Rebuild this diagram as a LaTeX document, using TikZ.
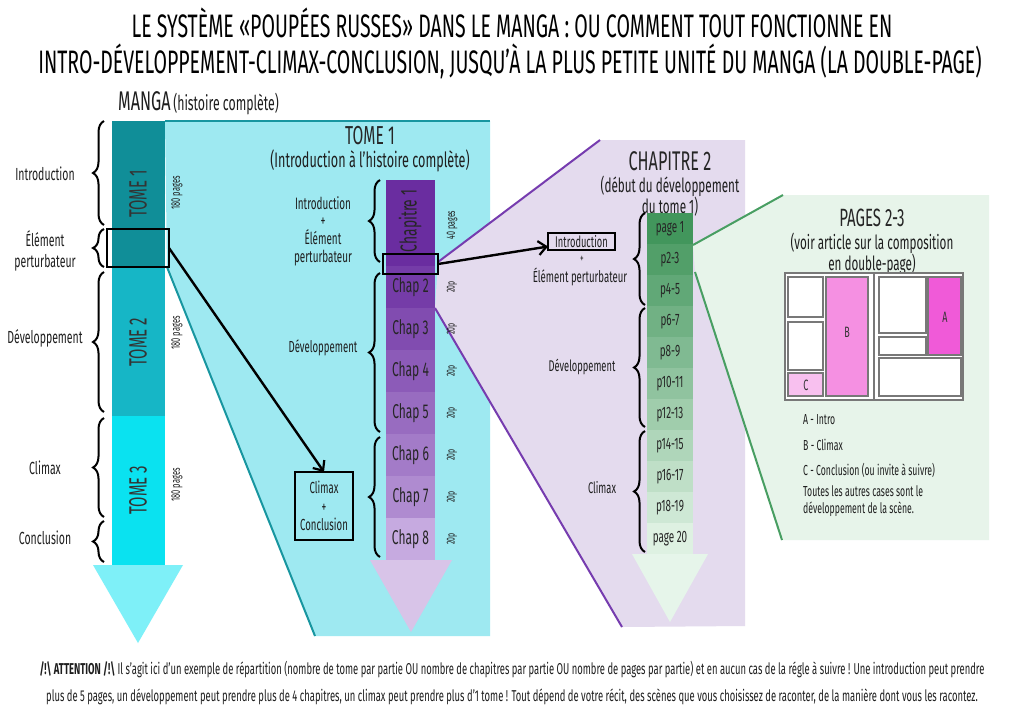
\documentclass[tikz,border=0pt]{standalone}
\usepackage{fontspec}
\setmainfont{Fira Sans}
\newfontfamily\cf{Fira Sans}[FakeStretch=0.6]
\newfontfamily\tf{Fira Sans}[FakeStretch=0.6]
\usetikzlibrary{decorations.pathreplacing,arrows.meta}
\definecolor{tomeA}{RGB}{16,142,152}
\definecolor{tomeB}{RGB}{22,182,198}
\definecolor{tomeC}{RGB}{10,226,240}
\definecolor{tomeHead}{RGB}{126,240,248}
\definecolor{cyanPanel}{RGB}{158,233,241}
\definecolor{tealLine}{RGB}{24,150,160}
\definecolor{lavPanel}{RGB}{228,219,238}
\definecolor{purLine}{RGB}{118,60,175}
\definecolor{grnPanel}{RGB}{231,244,234}
\definecolor{grnLine}{RGB}{72,158,98}
\definecolor{chDark}{RGB}{106,45,160}
\definecolor{chLight}{RGB}{198,170,224}
\definecolor{chHead}{RGB}{216,196,232}
\definecolor{pgDark}{RGB}{66,150,92}
\definecolor{pgLight}{RGB}{222,241,226}
\definecolor{pgHead}{RGB}{230,245,234}
\definecolor{pinkB}{RGB}{245,144,226}
\definecolor{pinkA}{RGB}{240,90,216}
\definecolor{pinkC}{RGB}{248,192,239}
\definecolor{txtc}{RGB}{30,30,30}
\definecolor{frameGray}{RGB}{120,120,120}
\begin{document}
\begin{tikzpicture}[x=1pt,y=-1pt,
  seg/.style={inner sep=0pt, outer sep=0pt, draw=none, anchor=north west},
  txt/.style={inner sep=0pt, text=txtc, align=center},
  brc/.style={decorate, decoration={brace, amplitude=11pt}, line width=2pt, black},
  blackbox/.style={draw=black, line width=2.6pt, inner sep=0pt, outer sep=0pt, anchor=north west},
  arr/.style={line width=2.4pt, -{Straight Barb[length=8pt,width=14pt,line width=2.2pt]}},
  panelline/.style={line width=2pt},
  cell/.style={draw=frameGray, line width=1.4pt, fill=white, inner sep=0pt, outer sep=0pt, anchor=north west},
]
\useasboundingbox (0,0) rectangle (1024,724);
\fill[white] (0,0) rectangle (1024,724);

% ---------- titles ----------
\node[txt, font=\tf\fontsize{32.5}{36}\selectfont, text=black] (title1) at (512,23) {LE SYSTÈME «POUPÉES RUSSES» DANS LE MANGA : OU COMMENT TOUT FONCTIONNE EN};
\node[txt, font=\tf\fontsize{32.5}{36}\selectfont, text=black] (title2) at (510,61) {INTRO-DÉVELOPPEMENT-CLIMAX-CONCLUSION, JUSQU’À LA PLUS PETITE UNITÉ DU MANGA (LA DOUBLE-PAGE)};
\node[txt, anchor=west] (mangat) at (118,103) {{\tf\fontsize{27}{29}\selectfont MANGA} {\cf\fontsize{20.5}{22}\selectfont(histoire complète)}};

% ---------- panels ----------
\coordinate (cpTR) at (490,121);
\coordinate (cpBR) at (490,636);
\coordinate (cpBL) at (315,636);
\coordinate (cpTL) at (165,121);
\coordinate (cpD) at (167,267);
\fill[cyanPanel] (cpTL) -- (cpTR) -- (cpBR) -- (cpBL) -- (cpD) -- cycle;
\draw[tealLine, panelline] (cpTL) -- (cpTR);
\draw[tealLine, panelline] (cpD) -- (cpBL);

\coordinate (lpA) at (438,262);
\coordinate (lpB) at (600,140);
\coordinate (lpC) at (745,140);
\coordinate (lpD) at (745,626);
\coordinate (lpE) at (622,627);
\coordinate (lpF) at (435,308);
\fill[lavPanel] (lpA) -- (lpB) -- (lpC) -- (lpD) -- (lpE) -- (lpF) -- cycle;
\draw[purLine, panelline] (lpA) -- (lpB);
\draw[purLine, panelline] (lpF) -- (lpE);

\coordinate (gpA) at (693,245);
\coordinate (gpB) at (783,195);
\coordinate (gpC) at (989,195);
\coordinate (gpD) at (989,540);
\coordinate (gpE) at (782,540);
\coordinate (gpF) at (695,272);
\fill[grnPanel] (gpA) -- (gpB) -- (gpC) -- (gpD) -- (gpE) -- (gpF) -- cycle;
\draw[grnLine, panelline] (gpA) -- (gpB);
\draw[grnLine, panelline] (gpF) -- (gpE);

% ---------- manga bar ----------
\node[seg, fill=tomeA, minimum width=53pt, minimum height=146pt] (tome1) at (112,121) {};
\node[seg, fill=tomeB, minimum width=53pt, minimum height=149pt] (tome2) at (112,267) {};
\node[seg, fill=tomeC, minimum width=53pt, minimum height=149pt] (tome3) at (112,416) {};
\fill[tomeHead] (93,565) -- (183,565) -- (138,643) -- cycle;
\node[txt, rotate=90, font=\tf\fontsize{25}{26}\selectfont, text=black!80] (tome1l) at (138,194) {TOME 1};
\node[txt, rotate=90, font=\tf\fontsize{25}{26}\selectfont, text=black!80] (tome2l) at (138,342) {TOME 2};
\node[txt, rotate=90, font=\tf\fontsize{25}{26}\selectfont, text=black!80] (tome3l) at (138,490) {TOME 3};
\node[txt, rotate=90, font=\cf\fontsize{12.5}{14}\selectfont] (tome1p) at (177,193) {180 pages};
\node[txt, rotate=90, font=\cf\fontsize{12.5}{14}\selectfont] (tome2p) at (177,333) {180 pages};
\node[txt, rotate=90, font=\cf\fontsize{12.5}{14}\selectfont] (tome3p) at (177,485) {180 pages};
\node[blackbox, minimum width=62pt, minimum height=38pt] (eb) at (107,229) {};

% left labels and braces
\node[txt, font=\cf\fontsize{17.5}{20}\selectfont] (lIntro) at (45,174) {Introduction};
\node[txt, font=\cf\fontsize{17.5}{21}\selectfont] (lElem) at (45,251) {Élément\\perturbateur};
\node[txt, font=\cf\fontsize{17.5}{20}\selectfont] (lDev) at (45,338) {Développement};
\node[txt, font=\cf\fontsize{17.5}{20}\selectfont] (lClim) at (45,468) {Climax};
\node[txt, font=\cf\fontsize{17.5}{20}\selectfont] (lConc) at (45,538) {Conclusion};
\draw[brc] (104,225) -- (104,121);
\draw[brc] (104,267) -- (104,229);
\draw[brc] (104,412) -- (104,272);
\draw[brc] (104,517) -- (104,418);
\draw[brc] (104,562) -- (104,521);

% ---------- tome 1 panel ----------
\node[txt, font=\tf\fontsize{26}{28}\selectfont, text=black!85] (t1title) at (370,136) {TOME 1};
\node[txt, font=\cf\fontsize{21}{23}\selectfont] (t1sub) at (370,161) {(Introduction à l’histoire complète)};
\node[seg, fill=chDark, minimum width=49pt, minimum height=86pt] (ch1) at (386,180) {};
\foreach \i/\p in {2/12,3/25,4/37,5/50,6/62,7/75,8/100}{
  \pgfmathsetmacro{\yy}{266+(\i-2)*42}
  \node[seg, fill=chLight!\p!chDark, minimum width=49pt, minimum height=42pt] (ch\i) at (386,\yy) {};
  \node[txt, font=\cf\fontsize{20}{22}\selectfont, text=black!85] (ch\i l) at (ch\i.center) {Chap \i};
  \node[txt, rotate=90, font=\cf\fontsize{11.5}{12}\selectfont] (ch\i p) at (452,\yy+21) {20p};
}
\fill[chHead] (370,560) -- (452,560) -- (411,632) -- cycle;
\node[txt, rotate=90, font=\cf\fontsize{23}{25}\selectfont, text=black!85] (ch1l) at (410,221) {Chapitre 1};
\node[txt, rotate=90, font=\cf\fontsize{12}{12}\selectfont] (ch1p) at (452,225) {40 pages};
\node[blackbox, minimum width=55pt, minimum height=20pt] (cb) at (383,254) {};

\node[txt, font=\cf\fontsize{16.5}{17.7}\selectfont] (t1intro) at (323,231) {Introduction\\+\\Élément\\perturbateur};
\node[txt, font=\cf\fontsize{16}{18}\selectfont] (t1dev) at (323,348) {Développement};
\draw[brc] (380,262) -- (380,180);
\draw[brc] (380,432) -- (380,273);
\draw[brc] (380,557) -- (380,437);

\node[blackbox, minimum width=58pt, minimum height=68pt] (ccb) at (295,472) {};
\node[txt, font=\cf\fontsize{16}{18.5}\selectfont] (ccbt) at (ccb.center) {Climax\\+\\Conclusion};

% ---------- chapitre 2 panel ----------
\node[txt, font=\tf\fontsize{27}{28}\selectfont, text=black!85] (c2title) at (670,161) {CHAPITRE 2};
\node[txt, font=\cf\fontsize{19.5}{16}\selectfont] (c2sub) at (670,196) {(début du développement\\du tome 1)};
\foreach \i/\t in {1/page 1,2/p2-3,3/p4-5,4/p6-7,5/p8-9,6/p10-11,7/p12-13,8/p14-15,9/p16-17,10/p18-19,11/page 20}{
  \pgfmathsetmacro{\yy}{213+(\i-1)*31}
  \pgfmathtruncatemacro{\pp}{(\i-1)*10}
  \node[seg, fill=pgLight!\pp!pgDark, minimum width=46pt, minimum height=31pt] (pg\i) at (647,\yy) {};
  \node[txt, font=\cf\fontsize{16.5}{18}\selectfont, text=black!85] (pg\i l) at (pg\i.center) {\t};
}
\fill[pgHead] (632,554) -- (708,554) -- (670,622) -- cycle;
\node[blackbox, minimum width=67pt, minimum height=17pt] (ib) at (548,233) {};
\node[txt, font=\cf\fontsize{15.5}{16}\selectfont] (ibt) at (ib.center) {Introduction};
\node[txt, font=\cf\fontsize{12}{14}\selectfont] (ibplus) at (582,259) {+};
\node[txt, font=\cf\fontsize{16}{17}\selectfont] (ibelem) at (580,277) {Élément perturbateur};
\node[txt, font=\cf\fontsize{15.5}{17}\selectfont] (c2dev) at (582,367) {Développement};
\node[txt, font=\cf\fontsize{15.5}{17}\selectfont] (c2clim) at (602,488) {Climax};
\draw[brc] (645,305) -- (645,213);
\draw[brc] (645,427) -- (645,308);
\draw[brc] (645,552) -- (645,431);

% ---------- pages 2-3 panel ----------
\node[txt, font=\tf\fontsize{25}{26}\selectfont, text=black!85] (p23title) at (872,218) {PAGES 2-3};
\node[txt, font=\cf\fontsize{19.5}{17}\selectfont] (p23sub) at (872,254) {(voir article sur la composition\\en double-page)};
\node[cell, minimum width=178pt, minimum height=127pt] (frame) at (785,273) {};
\draw[frameGray, line width=1.2pt] (frame.north) -- (frame.south);
\node[cell, minimum width=35pt, minimum height=40pt] (cTL) at (788,277) {};
\node[cell, minimum width=35pt, minimum height=48pt] (cML) at (788,322) {};
\node[cell, fill=pinkC, minimum width=35pt, minimum height=23pt] (cC) at (788,373) {};
\node[cell, fill=pinkB, minimum width=42pt, minimum height=119pt] (cB) at (826,277) {};
\node[cell, minimum width=47pt, minimum height=56pt] (cTR) at (879,277) {};
\node[cell, minimum width=47pt, minimum height=18pt] (cSR) at (879,337) {};
\node[cell, fill=pinkA, minimum width=33pt, minimum height=78pt] (cA) at (928,277) {};
\node[cell, minimum width=82pt, minimum height=38pt] (cBR) at (879,358) {};
\node[txt, font=\cf\fontsize{15}{16}\selectfont, text=black!80] (cAl) at (945,317) {A};
\node[txt, font=\cf\fontsize{15}{16}\selectfont, text=black!80] (cBl) at (847,332) {B};
\node[txt, font=\cf\fontsize{15}{16}\selectfont, text=black!80] (cCl) at (806,385) {C};
\node[txt, anchor=west, font=\cf\fontsize{14.5}{16}\selectfont] (legA) at (803,420) {A - Intro};
\node[txt, anchor=west, font=\cf\fontsize{14.5}{16}\selectfont] (legB) at (803,445) {B - Climax};
\node[txt, anchor=west, font=\cf\fontsize{14.5}{16}\selectfont] (legC) at (803,470) {C - Conclusion (ou invite à suivre)};
\node[txt, anchor=west, align=left, font=\cf\fontsize{14.5}{17}\selectfont] (legD) at (803,501) {Toutes les autres cases sont le\\développement de la scène.};

% ---------- arrows ----------
\draw[arr] (eb.east) -- (ccb.north);
\draw[arr] (cb.east) -- ([yshift=-5pt]ib.west);

% ---------- bottom note ----------
\node[txt, font=\cf\fontsize{15.7}{16}\selectfont] (note1) at (512,670) {{\bfseries /!\textbackslash{} ATTENTION /!\textbackslash{}} Il s’agit ici d’un exemple de répartition (nombre de tome par partie OU nombre de chapitres par partie OU nombre de pages par partie) et en aucun cas de la régle à suivre ! Une introduction peut prendre};
\node[txt, font=\cf\fontsize{15.7}{16}\selectfont] (note2) at (512,697) {plus de 5 pages, un développement peut prendre plus de 4 chapitres, un climax peut prendre plus d’1 tome ! Tout dépend de votre récit, des scènes que vous choisissez de raconter, de la manière dont vous les racontez.};
\end{tikzpicture}
\end{document}
